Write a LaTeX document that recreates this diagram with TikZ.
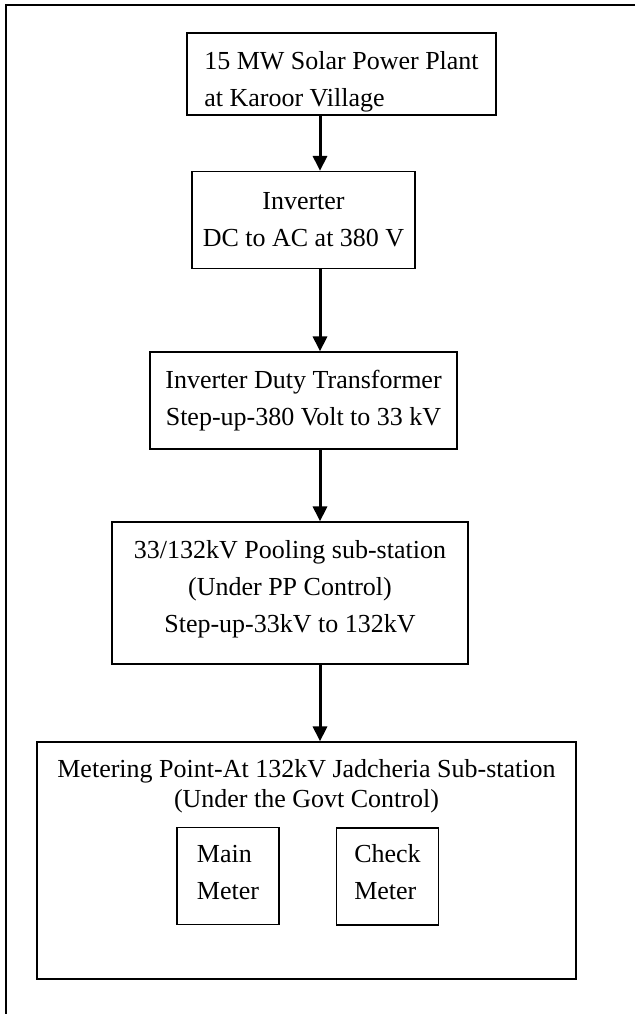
\documentclass[tikz,border=0pt]{standalone}
\usepackage{fontspec}
\setmainfont{Liberation Serif}
\usetikzlibrary{arrows.meta, positioning}
\newcommand{\liftline}[1]{\rule{0pt}{#1}}
\newcommand{\sinkline}[1]{\rule[-#1]{0pt}{0pt}}
\tikzset{
  stage/.style={rectangle, draw=black, line width=1.2pt, align=center,
    inner sep=0pt, font=\fontsize{26}{37}\selectfont},
  meter/.style={rectangle, draw=black, line width=1.2pt, align=left,
    inner sep=0pt, minimum width=102pt, minimum height=97pt,
    font=\fontsize{26}{37}\selectfont},
  arrow/.style={-{Triangle[length=15pt, width=14pt]}, line width=3pt},
  frame/.style={line width=2.2pt},
}

\begin{document}
\begin{tikzpicture}[x=1pt, y=-1pt]
  \fill[white] (0,0) rectangle (635,1014);
  \useasboundingbox (0,0) rectangle (635,1014);

  % ── Page frame ──
  \draw[frame] (635,5) -- (6,5) -- (6,1014);
  \coordinate (spine) at (320,0);

  % ── Generation chain ──
  \node[stage, align=left, minimum width=309pt, minimum height=82pt] (plant) at (341.5,74) {\liftline{34pt}15 MW Solar Power Plant\\at Karoor Village};
  \node[stage, minimum width=223pt, minimum height=97pt] (inverter) at (303.5,220) {Inverter\\DC to AC at 380 V};
  \node[stage, minimum width=307pt, minimum height=97pt] (idt) at (303.5,400.5) {Inverter Duty Transformer\\Step-up-380 Volt to 33 kV};
  \node[stage, minimum width=356pt, minimum height=142pt] (pooling) at (290,593) {33/132kV Pooling sub-station\\(Under PP Control)\\Step-up-33kV to 132kV\sinkline{13pt}};

  % ── Metering point ──
  \node[stage, minimum width=539pt, minimum height=237pt] (metering) at (306.5,860.5) {};
  \node[font=\fontsize{26}{30}\selectfont, align=center, inner sep=0pt, below=18pt of metering.north] (meterhead) {Metering Point-At 132kV Jadcheria Sub-station\\(Under the Govt Control)};
  \node[meter] (mainm) at (228,876) {Main\\Meter\sinkline{8pt}};
  \node[meter] (checkm) at (387.5,876.5) {Check\\Meter\sinkline{9pt}};

  % ── Arrows ──
  \draw[arrow] (plant.south -| spine)    -- (inverter.north -| spine);
  \draw[arrow] (inverter.south -| spine) -- (idt.north -| spine);
  \draw[arrow] (idt.south -| spine)      -- (pooling.north -| spine);
  \draw[arrow] (pooling.south -| spine)  -- (metering.north -| spine);

\end{tikzpicture}
\end{document}
